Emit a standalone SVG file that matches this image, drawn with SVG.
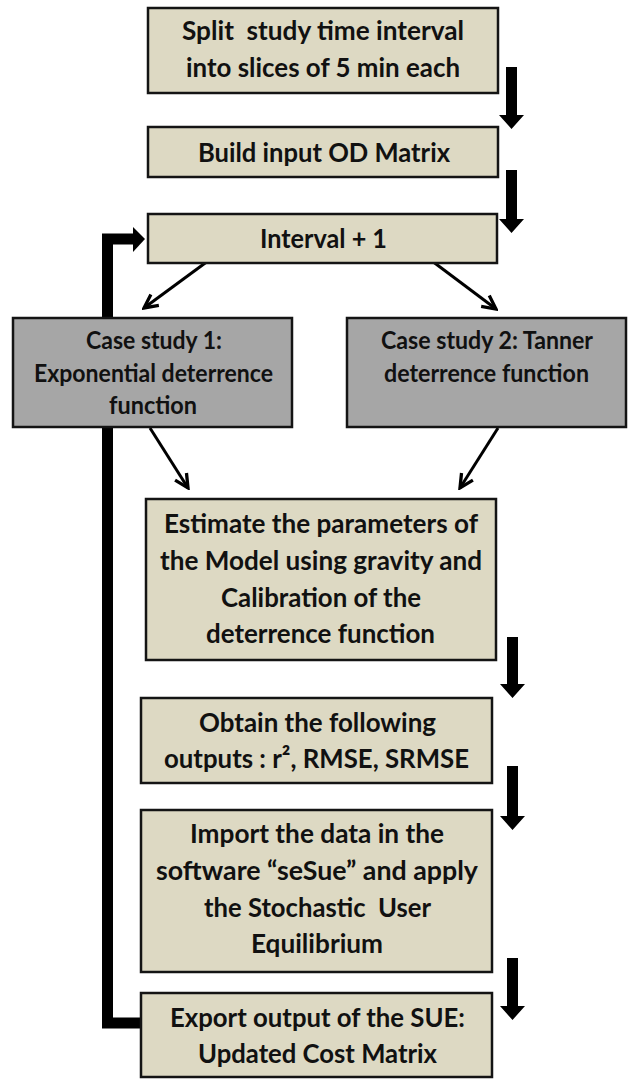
<svg xmlns="http://www.w3.org/2000/svg" width="629" height="1080" viewBox="0 0 629 1080">
<defs>
<style>
.box{fill:#DDD9C3;stroke:#141414;stroke-width:2.5}
.gbox{fill:#A6A6A6;stroke:#141414;stroke-width:2.5}
.t{font-family:Lato,"Open Sans","Liberation Sans",sans-serif;font-weight:bold;font-size:27px;fill:#111}
.ts{font-family:Lato,"Open Sans","Liberation Sans",sans-serif;font-weight:bold;font-size:24px;fill:#111}
.thin{stroke:#000;stroke-width:3;fill:none;marker-end:url(#open)}
.blk{fill:#000}
</style>
<marker id="open" viewBox="0 0 12 12" refX="10.5" refY="6" markerWidth="18" markerHeight="18" markerUnits="userSpaceOnUse" orient="auto">
<path d="M1.5,1.5 L10.5,6 L1.5,10.5" fill="none" stroke="#000" stroke-width="2.2" stroke-linejoin="miter"/>
</marker>
</defs>
<rect width="629" height="1080" fill="#fff"/>
<g id="connectors">
<path d="M141,1023 H107.5 V239 H134" fill="none" stroke="#000" stroke-width="11" stroke-linejoin="miter"/>
<polygon class="blk" points="133,227 145,239 133,252"/>
<polygon class="blk" points="506,67 517,67 517,115 524,115 511.5,129 499,115 506,115"/>
<polygon class="blk" points="506,170 517,170 517,219 524,219 511.5,233 499,219 506,219"/>
<polygon class="blk" points="507,637 518,637 518,684 525,684 512.5,698 500,684 507,684"/>
<polygon class="blk" points="507,766 518,766 518,816 525,816 512.5,830 500,816 507,816"/>
<polygon class="blk" points="507,958 518,958 518,1006 525,1006 512.5,1020 500,1006 507,1006"/>
<line class="thin" x1="212" y1="258" x2="144" y2="308"/>
<line class="thin" x1="428" y1="258" x2="496" y2="309"/>
<line class="thin" x1="150" y1="428" x2="188" y2="488"/>
<line class="thin" x1="498" y1="428" x2="460" y2="488"/>
</g>
<g id="n1">
<rect class="box" x="148" y="8" width="350" height="85"/>
<text class="t" x="182" y="40" textLength="282" lengthAdjust="spacingAndGlyphs" xml:space="preserve">Split  study time interval</text>
<text class="t" x="186" y="77" textLength="274" lengthAdjust="spacingAndGlyphs">into slices of 5 min each</text>
</g>
<g id="n2">
<rect class="box" x="148" y="127" width="350" height="50"/>
<text class="t" x="198" y="162" textLength="252" lengthAdjust="spacingAndGlyphs">Build input OD Matrix</text>
</g>
<g id="n3">
<rect class="box" x="148" y="214" width="349" height="49"/>
<text class="t" x="260" y="248" textLength="127" lengthAdjust="spacingAndGlyphs">Interval + 1</text>
</g>
<g id="n4">
<rect class="gbox" x="13" y="318" width="279" height="109"/>
<text class="ts" x="86" y="349" textLength="136" lengthAdjust="spacingAndGlyphs">Case study 1:</text>
<text class="ts" x="34" y="382" textLength="239" lengthAdjust="spacingAndGlyphs">Exponential deterrence</text>
<text class="ts" x="109" y="414" textLength="88" lengthAdjust="spacingAndGlyphs">function</text>
</g>
<g id="n5">
<rect class="gbox" x="347" y="318" width="279" height="109"/>
<text class="ts" x="381" y="349" textLength="212" lengthAdjust="spacingAndGlyphs">Case study 2: Tanner</text>
<text class="ts" x="384" y="382" textLength="205" lengthAdjust="spacingAndGlyphs">deterrence function</text>
</g>
<g id="n6">
<rect class="box" x="146" y="499" width="350" height="161"/>
<text class="t" x="164" y="533" textLength="314" lengthAdjust="spacingAndGlyphs">Estimate the parameters of</text>
<text class="t" x="160" y="570" textLength="322" lengthAdjust="spacingAndGlyphs">the Model using gravity and</text>
<text class="t" x="221" y="607" textLength="200" lengthAdjust="spacingAndGlyphs">Calibration of the</text>
<text class="t" x="206" y="643" textLength="229" lengthAdjust="spacingAndGlyphs">deterrence function</text>
</g>
<g id="n7">
<rect class="box" x="141" y="698" width="351" height="85"/>
<text class="t" x="199" y="732" textLength="237" lengthAdjust="spacingAndGlyphs">Obtain the following</text>
<text class="t" x="164" y="768" textLength="305" lengthAdjust="spacingAndGlyphs">outputs : r², RMSE, SRMSE</text>
</g>
<g id="n8">
<rect class="box" x="141" y="810" width="351" height="162"/>
<text class="t" x="190" y="843" textLength="254" lengthAdjust="spacingAndGlyphs">Import the data in the</text>
<text class="t" x="156" y="880" textLength="322" lengthAdjust="spacingAndGlyphs">software “seSue” and apply</text>
<text class="t" x="204" y="917" textLength="227" lengthAdjust="spacingAndGlyphs" xml:space="preserve">the Stochastic  User</text>
<text class="t" x="251" y="953" textLength="132" lengthAdjust="spacingAndGlyphs">Equilibrium</text>
</g>
<g id="n9">
<rect class="box" x="141" y="993" width="351" height="84"/>
<text class="t" x="170" y="1027" textLength="295" lengthAdjust="spacingAndGlyphs">Export output of the SUE:</text>
<text class="t" x="198" y="1063" textLength="239" lengthAdjust="spacingAndGlyphs">Updated Cost Matrix</text>
</g>
</svg>
